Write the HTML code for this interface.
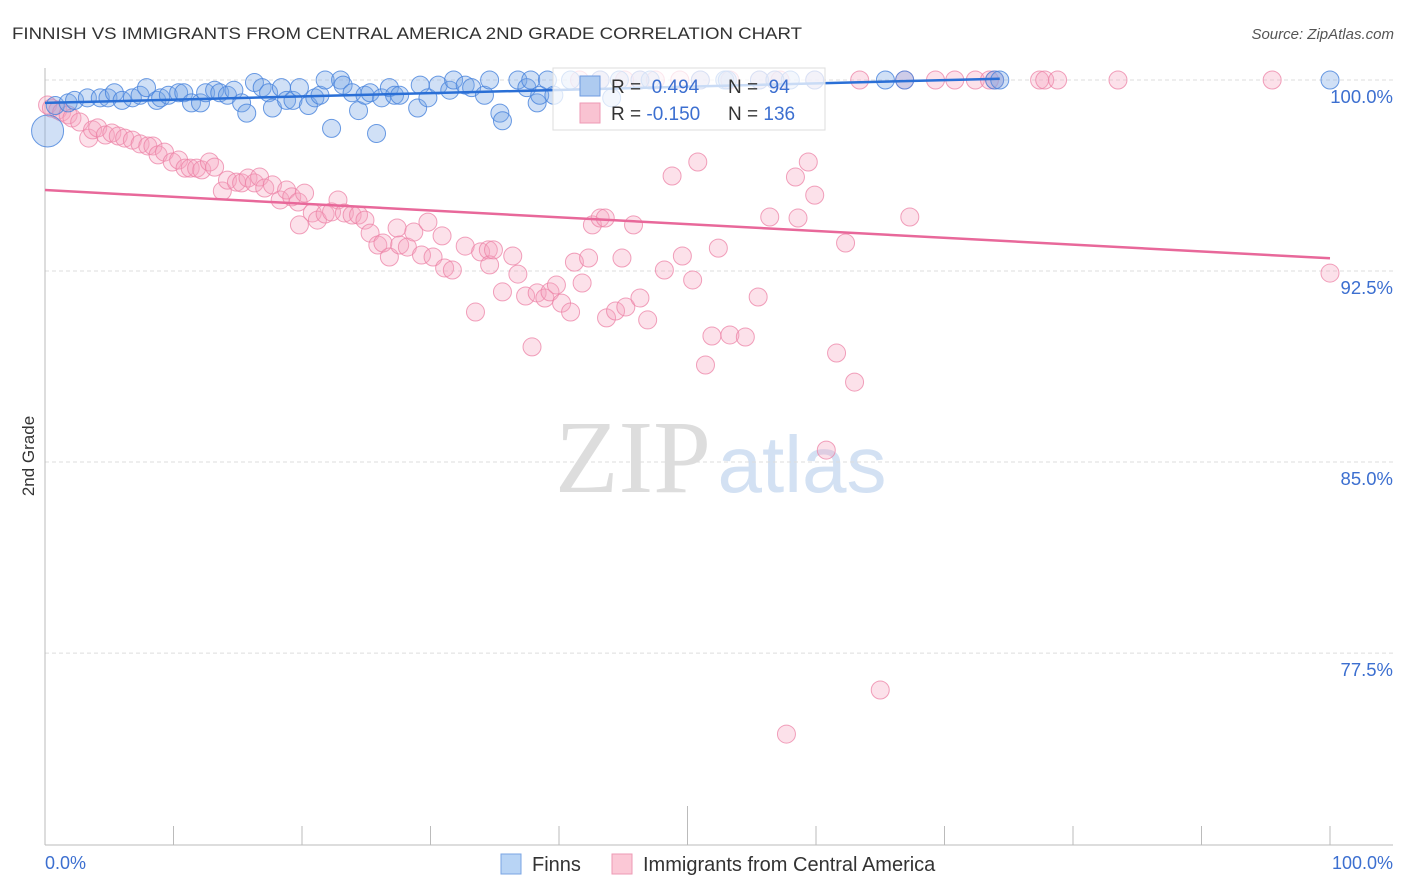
<!DOCTYPE html>
<html><head><meta charset="utf-8"><style>
body{margin:0;background:#fff;font-family:"Liberation Sans",sans-serif;}
svg{display:block}
</style></head><body>
<svg id="chart" width="1406" height="892" xmlns="http://www.w3.org/2000/svg">
<text x="12" y="39" font-size="17" fill="#333" textLength="790" lengthAdjust="spacingAndGlyphs">FINNISH VS IMMIGRANTS FROM CENTRAL AMERICA 2ND GRADE CORRELATION CHART</text>
<text x="1394" y="39" font-size="15" fill="#555" font-style="italic" text-anchor="end">Source: ZipAtlas.com</text>
<text x="34" y="456" font-size="17" fill="#333" text-anchor="middle" transform="rotate(-90 34 456)">2nd Grade</text>
<g>
<text x="633" y="492" font-size="104" font-family="Liberation Serif, serif" fill="#ddd" text-anchor="middle">ZIP</text>
<text x="802" y="492" font-size="80" fill="#d3e1f3" text-anchor="middle">atlas</text>
</g>
<g id="grid"></g>
<g id="axes"></g>
<g id="pinkpts"></g>
<g id="bluepts"></g>
<g id="trends"></g>
<g>
<rect x="553" y="68" width="272" height="62" fill="#fff" fill-opacity="0.75" stroke="#ddd"/>
<rect x="580" y="76" width="20" height="20" fill="#aecbf0" stroke="#6f9be0"/>
<rect x="580" y="103" width="20" height="20" fill="#f9c3d2" stroke="#ee9ab4"/>
<text x="611" y="93" font-size="19" fill="#333">R = <tspan fill="#3c6fd0">&#160;0.494</tspan><tspan x="728">N = </tspan><tspan fill="#3c6fd0">&#160;94</tspan></text>
<text x="611" y="120" font-size="19" fill="#333">R = <tspan fill="#3c6fd0">-0.150</tspan><tspan x="728">N = </tspan><tspan fill="#3c6fd0">136</tspan></text>
</g>
<g>
<rect x="501" y="854" width="20" height="20" fill="#b8d4f5" stroke="#7aa4e3"/>
<text x="532" y="871" font-size="20" fill="#333">Finns</text>
<rect x="612" y="854" width="20" height="20" fill="#fbc8d6" stroke="#ee9ab4"/>
<text x="643" y="871" font-size="20" fill="#333">Immigrants from Central America</text>
</g>
</svg>
<script>
const yTicks=[100,92.5,85,77.5];
const yTickLabels=["100.0%","92.5%","85.0%","77.5%"];
const xTicks=[0,10,20,30,40,50,60,70,80,90,100];
const blueX=[0.8,1.8,2.3,3.3,4.3,4.9,5.4,6.0,6.8,7.4,7.9,8.7,9.0,9.6,10.4,10.8,11.4,12.1,12.5,13.2,13.6,14.2,14.7,15.3,15.7,16.3,16.9,17.4,17.7,18.4,18.8,19.3,19.8,20.5,21.0,21.4,21.8,22.3,23.0,23.2,23.9,24.4,24.9,25.3,25.8,26.2,26.8,27.2,27.6,29.0,29.2,29.8,30.6,31.5,31.8,32.7,33.2,34.2,34.6,35.4,35.6,36.8,37.5,37.8,38.3,38.5,39.1,39.6,40.9,43.2,44.1,44.7,46.3,47.1,51.0,52.9,53.1,55.6,56.8,58.0,59.9,65.4,66.9,73.9,74.3,100];
const blueY=[99.0,99.1,99.2,99.3,99.3,99.3,99.5,99.2,99.3,99.4,99.7,99.2,99.3,99.4,99.5,99.5,99.1,99.1,99.5,99.6,99.5,99.4,99.6,99.1,98.7,99.9,99.7,99.5,98.9,99.7,99.2,99.2,99.7,99.0,99.3,99.4,100,98.1,100,99.8,99.5,98.8,99.4,99.5,97.9,99.3,99.7,99.4,99.4,98.9,99.8,99.3,99.8,99.6,100,99.8,99.7,99.4,100,98.7,98.4,100,99.7,100,99.1,99.4,100,99.4,100,100,99.3,100,100,100,100,100,100,100,100,100,100,100,100,100,100,100];
const bigBlueX=[0.2], bigBlueY=[98.0];
const pinkX=[0.2,0.5,1.0,1.3,1.8,2.1,2.7,3.4,3.7,4.1,4.7,5.2,5.7,6.2,6.8,7.4,8.0,8.4,8.8,9.3,9.9,10.4,10.9,11.3,11.8,12.2,12.8,13.2,13.8,14.2,14.9,15.3,15.8,16.3,16.7,17.1,17.7,18.3,18.8,19.2,19.7,20.2,19.8,20.8,21.2,21.8,22.3,22.8,23.3,23.9,24.4,24.9,25.3,25.9,26.3,26.8,27.4,27.6,28.2,28.7,29.3,29.8,30.2,30.9,31.1,31.7,32.7,33.5,33.9,34.5,34.6,34.9,35.6,36.4,36.8,37.4,37.9,38.3,38.9,39.3,39.8,40.2,40.9,41.2,41.8,42.3,42.6,43.2,43.6,43.7,44.4,44.9,45.2,45.8,46.3,46.9,48.2,48.8,49.6,50.4,50.8,51.4,51.9,52.4,53.3,54.5,55.5,56.4,57.7,58.4,58.6,59.4,59.9,60.8,61.6,62.3,63.0,65.0,67.3,100,41.6,43.2,45.1,46.3,47.5,49.4,51.0,53.3,55.6,56.8,57.2,59.9,63.4,66.9,69.3,70.8,72.4,73.5,73.9,77.4,77.8,78.8,83.5,95.5];
const pinkY=[99.02,98.9,98.82,98.74,98.63,98.51,98.35,97.72,98.04,98.12,97.84,97.92,97.8,97.72,97.64,97.49,97.41,97.41,97.06,97.17,96.78,96.86,96.54,96.54,96.54,96.47,96.78,96.58,95.64,96.07,95.99,95.96,96.15,95.96,96.19,95.76,95.88,95.29,95.68,95.41,95.21,95.56,94.31,94.78,94.5,94.74,94.82,95.29,94.78,94.7,94.7,94.5,93.99,93.52,93.6,93.05,94.19,93.52,93.44,94.03,93.13,94.42,93.05,93.88,92.62,92.54,93.48,90.89,93.25,93.33,92.74,93.33,91.68,93.09,92.38,91.52,89.52,91.64,91.44,91.68,91.95,91.24,90.89,92.85,92.03,93.01,94.31,94.58,94.58,90.66,90.93,93.01,91.09,94.31,91.44,90.58,92.54,96.23,93.09,92.15,96.78,88.81,89.95,93.4,89.99,89.91,91.48,94.62,74.32,96.19,94.58,96.78,95.48,85.47,89.28,93.6,88.14,76.05,94.62,92.42,100,100,100,100,100,100,100,100,100,100,100,100,100,100,100,100,100,100,100,100,100,100,100,100];
const blueTrendX=[0,74.3], blueTrendY=[99.1,100.05];
const pinkTrendX=[0,100], pinkTrendY=[95.68,93.0];

const NS="http://www.w3.org/2000/svg";
const X0=45,X1=1330,YTOP=80,PXPER=25.47;
function xs(v){return X0+(X1-X0)*v/100;}
function ys(v){return YTOP+(100-v)*PXPER;}
function mk(tag,attrs,parent){const e=document.createElementNS(NS,tag);for(const k in attrs)e.setAttribute(k,attrs[k]);parent.appendChild(e);return e;}
const grid=document.getElementById('grid');
yTicks.forEach((t,i)=>{
  const l=mk('line',{x1:X0,x2:1393,y1:ys(t),y2:ys(t),stroke:'#ddd','stroke-dasharray':'4 3'},grid);
  
  
  const tx=mk('text',{x:1393,y:ys(t)+23,'font-size':18.5,fill:'#3c6fd0','text-anchor':'end'},grid);
  tx.textContent=yTickLabels[i];
  
  
});
const axes=document.getElementById('axes');
let a=mk('line',{x1:X0,x2:1393,y1:845,y2:845,stroke:'#bbb'},axes);


a=mk('line',{x1:X0,x2:X0,y1:68,y2:845,stroke:'#bbb'},axes);


xTicks.forEach(t=>{
  const tk=mk('line',{x1:xs(t),x2:xs(t),y1:(t===50?806:826),y2:845,stroke:'#bbb'},axes);
  
  
});
let t0=mk('text',{x:45,y:869,'font-size':18,fill:'#3c6fd0'},axes);t0.textContent='0.0%';


let t1=mk('text',{x:1393,y:869,'font-size':18,fill:'#3c6fd0','text-anchor':'end'},axes);t1.textContent='100.0%';



const pg=document.getElementById('pinkpts');
pinkX.forEach((v,i)=>{
  const c=mk('circle',{cx:xs(v),cy:ys(pinkY[i]),r:9,fill:'rgba(246,165,190,0.33)',stroke:'rgba(236,130,165,0.75)','stroke-width':1},pg);
  
  
});
const bg=document.getElementById('bluepts');
blueX.forEach((v,i)=>{
  const c=mk('circle',{cx:xs(v),cy:ys(blueY[i]),r:9,fill:'rgba(120,165,230,0.35)',stroke:'rgba(70,130,220,0.8)','stroke-width':1},bg);
  
  
});
bigBlueX.forEach((v,i)=>{
  const c=mk('circle',{cx:xs(v),cy:ys(bigBlueY[i]),r:16,fill:'rgba(120,165,230,0.35)',stroke:'rgba(70,130,220,0.8)','stroke-width':1},bg);
  
  
});
const tg=document.getElementById('trends');
let tl=mk('line',{x1:xs(pinkTrendX[0]),y1:ys(pinkTrendY[0]),x2:xs(pinkTrendX[1]),y2:ys(pinkTrendY[1]),stroke:'#e8689a','stroke-width':2.5},tg);


tl=mk('line',{x1:xs(blueTrendX[0]),y1:ys(blueTrendY[0]),x2:xs(blueTrendX[1]),y2:ys(blueTrendY[1]),stroke:'#2a6fd6','stroke-width':2.5},tg);


</script>
</body></html>
